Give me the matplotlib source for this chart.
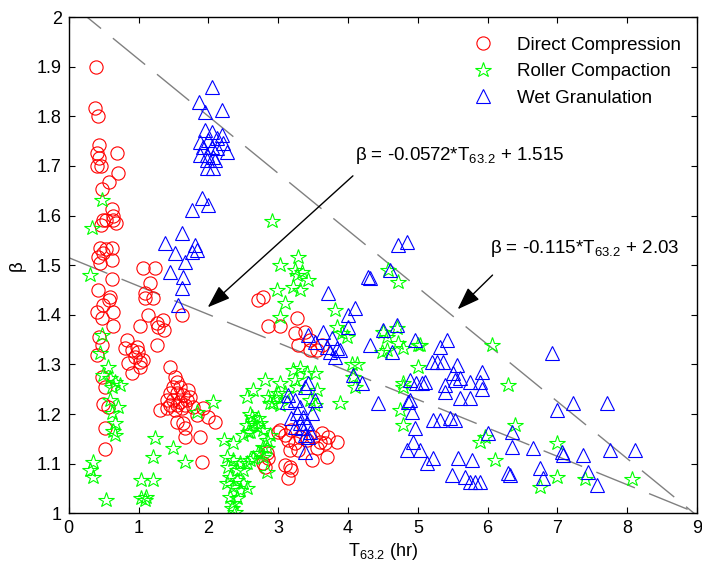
import numpy as np
import matplotlib
matplotlib.use("Agg")
import matplotlib.pyplot as plt
from matplotlib.ticker import FormatStrFormatter

plt.rcParams['font.family'] = ['Liberation Sans', 'DejaVu Sans']
plt.rcParams['mathtext.fontset'] = 'custom'
plt.rcParams['mathtext.rm'] = 'Liberation Sans'
plt.rcParams['mathtext.it'] = 'Liberation Sans:italic'
plt.rcParams['mathtext.bf'] = 'Liberation Sans:bold'

# valores (T63.2, beta)
direct_compression = [
    (0.39, 1.900), (0.37, 1.817), (0.42, 1.800), (0.43, 1.742), (0.40, 1.726), (0.43, 1.716),
    (0.40, 1.700), (0.46, 1.700), (0.69, 1.726), (0.70, 1.685), (0.57, 1.667), (0.47, 1.653),
    (0.62, 1.613), (0.63, 1.600), (0.64, 1.590), (0.49, 1.590), (0.46, 1.580), (0.54, 1.590),
    (0.67, 1.585), (0.44, 1.534), (0.54, 1.532), (0.62, 1.534), (0.42, 1.516), (0.49, 1.524),
    (0.62, 1.510), (0.44, 1.504), (0.62, 1.472), (0.42, 1.450), (0.59, 1.436), (0.57, 1.430),
    (0.49, 1.420), (0.63, 1.405), (0.40, 1.405), (0.47, 1.393), (0.63, 1.377), (0.43, 1.355),
    (0.47, 1.339), (0.40, 1.319), (0.47, 1.274), (0.52, 1.254), (0.49, 1.220), (0.56, 1.214),
    (0.52, 1.171), (0.52, 1.129),
    (1.06, 1.494), (1.23, 1.494), (1.17, 1.464), (1.09, 1.444), (1.09, 1.434), (1.20, 1.434),
    (1.13, 1.400), (1.02, 1.377), (1.26, 1.383), (1.35, 1.389), (1.37, 1.369), (1.28, 1.375),
    (1.26, 1.339), (0.83, 1.349), (0.80, 1.333), (0.90, 1.329), (0.97, 1.335), (0.99, 1.325),
    (1.06, 1.308), (1.02, 1.305), (0.85, 1.302), (0.95, 1.315), (0.90, 1.282), (1.02, 1.294),
    (1.62, 1.400),
    (1.45, 1.294), (1.52, 1.274), (1.55, 1.264), (1.49, 1.254), (1.59, 1.254), (1.71, 1.248),
    (1.45, 1.242), (1.55, 1.242), (1.63, 1.238), (1.73, 1.234), (1.40, 1.228), (1.49, 1.228),
    (1.59, 1.224), (1.69, 1.228), (1.45, 1.218), (1.55, 1.218), (1.66, 1.218), (1.30, 1.208),
    (1.40, 1.212), (1.52, 1.208), (1.62, 1.212), (1.78, 1.214), (1.92, 1.212), (1.83, 1.198),
    (1.99, 1.194), (2.09, 1.184), (1.55, 1.184), (1.63, 1.182), (1.66, 1.171), (1.66, 1.153),
    (1.88, 1.153), (1.91, 1.103),
    (2.71, 1.429), (2.78, 1.435), (2.85, 1.377), (3.02, 1.377), (3.27, 1.393), (3.24, 1.363),
    (3.38, 1.365), (3.28, 1.339), (3.45, 1.329), (3.55, 1.329), (3.45, 1.349), (3.62, 1.339),
    (3.02, 1.167), (3.09, 1.157), (3.19, 1.167), (3.14, 1.147), (3.24, 1.141), (3.31, 1.153),
    (3.41, 1.147), (3.50, 1.153), (3.60, 1.143), (3.67, 1.141), (3.62, 1.161), (3.71, 1.153),
    (3.84, 1.143), (3.55, 1.131), (3.70, 1.113), (3.48, 1.107), (3.28, 1.127), (3.17, 1.127),
    (2.84, 1.121), (2.85, 1.111), (2.78, 1.101), (2.81, 1.093), (3.09, 1.097), (3.17, 1.093),
    (3.19, 1.087), (3.14, 1.071), (2.99, 1.163),
]

roller_compaction = [
    (0.47, 1.631), (0.33, 1.575), (2.91, 1.589),
    (0.30, 1.480), (0.47, 1.359), (0.44, 1.323), (0.56, 1.294), (0.49, 1.278), (0.59, 1.272),
    (0.66, 1.264), (0.73, 1.258), (0.62, 1.254), (0.59, 1.228), (0.70, 1.214), (0.62, 1.202),
    (0.66, 1.182), (0.63, 1.165), (0.66, 1.157), (0.34, 1.103), (0.30, 1.087), (0.34, 1.073),
    (0.54, 1.026),
    (1.23, 1.151), (1.20, 1.113), (1.04, 1.067), (1.20, 1.067), (1.04, 1.030), (1.11, 1.032),
    (1.09, 1.026), (1.49, 1.131), (1.66, 1.103), (2.06, 1.224), (1.83, 1.204),
    (2.23, 1.147), (2.35, 1.141), (2.26, 1.113), (2.35, 1.107), (2.45, 1.101), (2.28, 1.093),
    (2.41, 1.087), (2.55, 1.101), (2.64, 1.111), (2.74, 1.121), (2.31, 1.073), (2.41, 1.067),
    (2.49, 1.060), (2.26, 1.060), (2.35, 1.052), (2.45, 1.046), (2.55, 1.050), (2.31, 1.032),
    (2.41, 1.030), (2.35, 1.020), (2.38, 1.003), (2.34, 1.010),
    (2.49, 1.157), (2.59, 1.163), (2.64, 1.181), (2.55, 1.177), (2.62, 1.194), (2.71, 1.192),
    (2.59, 1.200), (2.69, 1.173), (2.78, 1.133), (2.84, 1.147), (2.88, 1.157), (2.55, 1.234),
    (2.64, 1.248), (2.81, 1.268), (2.92, 1.222), (2.85, 1.234), (2.99, 1.242),
    (3.28, 1.516), (3.02, 1.500), (3.24, 1.490), (3.34, 1.486), (3.42, 1.470), (3.27, 1.480),
    (2.98, 1.450), (3.21, 1.456), (3.31, 1.450), (3.09, 1.423), (3.02, 1.395), (3.81, 1.409),
    (3.84, 1.375), (3.91, 1.363), (3.98, 1.355), (3.31, 1.292), (3.21, 1.288), (3.41, 1.282),
    (3.52, 1.282), (3.02, 1.262), (2.95, 1.234), (2.88, 1.222), (3.09, 1.242), (3.02, 1.218),
    (3.24, 1.268), (3.27, 1.254), (3.55, 1.248), (3.45, 1.228), (3.52, 1.218), (3.88, 1.222),
    (2.74, 1.182), (2.56, 1.163), (2.78, 1.167), (2.84, 1.131), (2.78, 1.113), (2.71, 1.121),
    (2.59, 1.107), (2.49, 1.087), (2.84, 1.083),
    (4.05, 1.300), (4.13, 1.300), (4.10, 1.254), (4.07, 1.274),
    (4.57, 1.490), (4.71, 1.466), (4.50, 1.365), (4.56, 1.329), (4.71, 1.343), (4.79, 1.333),
    (4.56, 1.355), (5.00, 1.339), (5.00, 1.294), (4.79, 1.254), (4.74, 1.208), (4.79, 1.177),
    (4.70, 1.373), (4.48, 1.325), (5.03, 1.339), (4.79, 1.262),
    (6.06, 1.339), (6.29, 1.258), (6.39, 1.177), (5.89, 1.143), (5.96, 1.153), (6.10, 1.107),
    (7.00, 1.142), (6.99, 1.073), (6.75, 1.052), (7.39, 1.070), (8.07, 1.070),
]

wet_granulation = [
    (2.05, 1.859), (1.86, 1.829), (2.19, 1.812), (1.95, 1.808),
    (1.95, 1.772), (2.05, 1.768), (2.19, 1.762), (1.88, 1.748), (1.99, 1.752), (2.12, 1.756),
    (2.21, 1.746), (1.92, 1.738), (2.05, 1.738), (2.13, 1.736), (2.26, 1.728), (1.88, 1.722),
    (1.98, 1.722), (2.06, 1.718), (1.98, 1.712), (2.09, 1.712), (1.98, 1.696), (2.06, 1.696),
    (1.91, 1.635), (1.99, 1.621), (1.76, 1.611),
    (1.62, 1.565), (1.38, 1.544), (1.52, 1.524), (1.81, 1.540), (1.76, 1.526), (1.83, 1.530),
    (1.66, 1.506), (1.45, 1.486), (1.63, 1.476), (1.62, 1.454), (1.56, 1.419),
    (4.28, 1.476), (3.71, 1.444), (4.60, 1.490), (4.10, 1.413), (4.00, 1.400), (4.70, 1.379),
    (4.50, 1.369), (4.00, 1.375), (4.31, 1.339), (4.96, 1.349), (4.63, 1.325),
    (3.42, 1.359), (3.64, 1.365), (3.77, 1.353), (3.70, 1.335), (3.84, 1.333), (3.74, 1.325),
    (3.88, 1.329), (3.81, 1.315), (3.52, 1.345),
    (4.07, 1.278), (4.20, 1.262), (4.43, 1.222),
    (4.89, 1.268), (4.98, 1.262), (5.06, 1.262), (4.86, 1.224), (4.91, 1.204), (4.96, 1.171),
    (4.93, 1.143), (4.84, 1.127), (5.03, 1.127), (5.13, 1.101),
    (3.42, 1.262), (3.38, 1.254), (3.14, 1.238), (3.24, 1.228), (3.52, 1.228), (3.31, 1.214),
    (3.12, 1.224), (3.48, 1.202), (3.27, 1.202), (3.35, 1.194), (3.19, 1.192), (3.31, 1.182),
    (3.41, 1.182), (3.24, 1.173), (3.34, 1.171), (3.45, 1.163), (3.38, 1.157), (3.42, 1.153),
    (3.38, 1.123),
    (4.71, 1.540), (4.84, 1.546), (4.31, 1.474), (5.32, 1.335), (5.42, 1.349),
    (5.20, 1.304), (5.27, 1.304), (5.36, 1.304), (5.56, 1.298), (5.50, 1.282), (5.60, 1.272),
    (5.92, 1.284), (5.89, 1.264), (5.74, 1.264), (5.53, 1.268),
    (5.10, 1.264), (5.39, 1.258), (5.39, 1.244), (5.92, 1.250), (5.60, 1.232), (5.74, 1.232),
    (4.89, 1.228),
    (5.21, 1.188), (5.32, 1.188), (5.46, 1.192), (5.53, 1.188),
    (6.00, 1.161), (6.35, 1.163), (6.35, 1.133), (6.65, 1.131),
    (5.21, 1.111), (5.57, 1.111), (5.77, 1.107),
    (5.49, 1.077), (5.67, 1.073), (5.74, 1.062), (5.82, 1.062), (5.89, 1.062), (6.32, 1.077),
    (6.92, 1.323), (6.99, 1.208), (7.06, 1.123), (6.75, 1.091), (6.79, 1.071),
    (7.22, 1.222), (7.71, 1.222), (6.29, 1.081), (7.08, 1.117), (7.36, 1.117), (7.75, 1.127),
    (8.11, 1.127), (7.44, 1.083), (7.56, 1.056),
]

series_labels = ['Direct Compression', 'Roller Compaction', 'Wet Granulation']

# retas de ajuste: beta = a*T + b
fit_upper = (-0.115, 2.03)
fit_lower = (-0.0572, 1.515)
x_ticks = [0, 1, 2, 3, 4, 5, 6, 7, 8, 9]
y_ticks = [1, 1.1, 1.2, 1.3, 1.4, 1.5, 1.6, 1.7, 1.8, 1.9, 2]

fig = plt.figure(figsize=(7.02, 5.69), dpi=100)
ax = fig.add_axes([0.098, 0.098, 0.895, 0.872])

t = np.linspace(0, 9, 200)
for a, b in [fit_upper, fit_lower]:
    ax.plot(t, a * t + b, color='0.5', lw=1, dashes=(30, 11))

estilos = [('o', 'r'), ('*', (0, 1, 0)), ('^', 'b')]
for dados, (mk, cor), nome in zip([direct_compression, roller_compaction, wet_granulation],
                                  estilos, series_labels):
    xs = [p[0] for p in dados]
    ys = [p[1] for p in dados]
    ms = 11.5 if mk == '*' else 9.5
    ax.plot(xs, ys, linestyle='none', marker=mk, ms=ms, mfc='none', mec=cor,
            mew=0.8, label=nome)

ax.set_xlim(0, 9)
ax.set_ylim(1, 2)
ax.set_xticks(x_ticks)
ax.set_yticks(y_ticks)
ax.yaxis.set_major_formatter(FormatStrFormatter('%g'))
ax.tick_params(direction='in', top=True, right=True, length=4, labelsize=13, pad=5)
for s in ax.spines.values():
    s.set_linewidth(1)

ax.set_xlabel('T$_{63.2}$ (hr)', fontsize=13, labelpad=3)
ax.set_ylabel('β', fontsize=13.5, labelpad=8)

# anotacoes das retas
ax.text(4.1, 1.72, 'β = -0.0572*T$_{63.2}$ + 1.515', fontsize=13.5, va='center')
ax.annotate('', xy=(1.99, 1.415), xytext=(4.07, 1.68),
            arrowprops=dict(arrowstyle='-|>,head_length=0.7,head_width=0.25',
                            color='k', lw=1, mutation_scale=20, shrinkA=0, shrinkB=0))
ax.text(6.03, 1.534, 'β = -0.115*T$_{63.2}$ + 2.03', fontsize=13.5, va='center')
ax.annotate('', xy=(5.57, 1.411), xytext=(6.07, 1.48),
            arrowprops=dict(arrowstyle='-|>,head_length=0.7,head_width=0.25',
                            color='k', lw=1, mutation_scale=20, shrinkA=0, shrinkB=0))

ax.legend(loc='upper left', bbox_to_anchor=(0.602, 0.994), frameon=False, numpoints=1,
          fontsize=13.5, handlelength=2, handletextpad=0.85, labelspacing=0.49,
          borderpad=0.4)

fig.savefig('out.png', dpi=100)
